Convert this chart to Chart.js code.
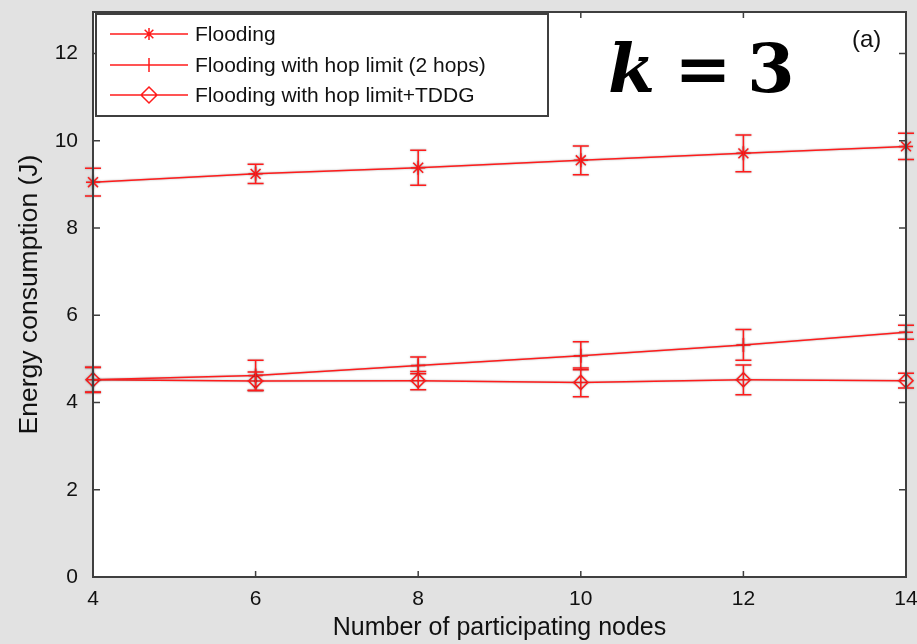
<!DOCTYPE html>
<html>
<head>
<meta charset="utf-8">
<script src="https://cdn.jsdelivr.net/npm/chart.js@4"></script>
<style>
  html, body { margin: 0; padding: 0; background: #e2e2e2; }
  #wrap { width: 917px; height: 644px; }
</style>
</head>
<body>
<div id="wrap"><canvas id="energyChart" width="917" height="644"></canvas></div>
<script>
// Data
const xValues = [4, 6, 8, 10, 12, 14];
const floodingMean = [9.05, 9.24, 9.38, 9.55, 9.71, 9.87];
const floodingErr = [0.32, 0.22, 0.40, 0.33, 0.42, 0.30];
const hopMean = [4.52, 4.62, 4.85, 5.07, 5.32, 5.61];
const hopErr = [0.28, 0.35, 0.19, 0.32, 0.35, 0.16];
const tddgMean = [4.52, 4.49, 4.50, 4.46, 4.52, 4.50];
const tddgErr = [0.29, 0.21, 0.21, 0.33, 0.34, 0.17];
const xTicks = [4, 6, 8, 10, 12, 14];
const yTicks = [0, 2, 4, 6, 8, 10, 12];
const seriesNames = ['Flooding', 'Flooding with hop limit (2 hops)', 'Flooding with hop limit+TDDG'];

const RED = 'rgb(255, 28, 28)';
const FRAME = '#3f3f3f';

function toPoints(means) {
    return xValues.map((x, i) => ({ x: x, y: means[i] }));
}

const errors = [floodingErr, hopErr, tddgErr];
const means = [floodingMean, hopMean, tddgMean];

// background, frame, inner ticks, error bars, legend, labels
const figurePlugin = {
    id: 'figure',
    beforeDraw(chart) {
        const { ctx, chartArea: ca } = chart;
        ctx.save();
        ctx.fillStyle = '#e2e2e2';
        ctx.fillRect(0, 0, chart.width, chart.height);
        ctx.fillStyle = '#ffffff';
        ctx.fillRect(ca.left, ca.top, ca.right - ca.left, ca.bottom - ca.top);
        ctx.restore();
    },
    beforeDatasetsDraw(chart) {
        const ctx = chart.ctx;
        ctx.save();
        ctx.shadowColor = 'rgba(0,0,0,0.35)';
        ctx.shadowBlur = 2;
    },
    afterDatasetsDraw(chart) {
        const { ctx, scales } = chart;
        const xs = scales.x, ys = scales.y;
        // error bars
        ctx.strokeStyle = RED;
        ctx.lineWidth = 1.5;
        means.forEach((m, d) => {
            m.forEach((v, i) => {
                const px = xs.getPixelForValue(xValues[i]);
                const top = ys.getPixelForValue(v + errors[d][i]);
                const bot = ys.getPixelForValue(v - errors[d][i]);
                ctx.beginPath();
                ctx.moveTo(px, top); ctx.lineTo(px, bot);
                ctx.moveTo(px - 8, top); ctx.lineTo(px + 8, top);
                ctx.moveTo(px - 8, bot); ctx.lineTo(px + 8, bot);
                ctx.stroke();
            });
        });
        ctx.restore();
    },
    afterDraw(chart) {
        const { ctx, chartArea: ca, scales } = chart;
        const xs = scales.x, ys = scales.y;
        ctx.save();
        // box
        ctx.strokeStyle = FRAME;
        ctx.lineWidth = 2;
        ctx.strokeRect(ca.left, ca.top, ca.right - ca.left, ca.bottom - ca.top);
        // inward ticks on all four sides
        ctx.lineWidth = 1.5;
        ctx.beginPath();
        xTicks.forEach(t => {
            const px = xs.getPixelForValue(t);
            ctx.moveTo(px, ca.bottom); ctx.lineTo(px, ca.bottom - 6);
            ctx.moveTo(px, ca.top); ctx.lineTo(px, ca.top + 6);
        });
        yTicks.forEach(t => {
            const py = ys.getPixelForValue(t);
            ctx.moveTo(ca.left, py); ctx.lineTo(ca.left + 7, py);
            ctx.moveTo(ca.right, py); ctx.lineTo(ca.right - 7, py);
        });
        ctx.stroke();

        // legend box
        const lx = ca.left + 3, ly = ca.top + 2;
        ctx.fillStyle = '#ffffff';
        ctx.fillRect(lx, ly, 452, 102);
        ctx.strokeStyle = FRAME;
        ctx.lineWidth = 2;
        ctx.strokeRect(lx, ly, 452, 102);
        const rows = [22, 53, 83];
        ctx.font = '21px "Liberation Sans", Arial, sans-serif';
        ctx.textBaseline = 'middle';
        ctx.textAlign = 'left';
        rows.forEach((r, i) => {
            const y = ca.top + r;
            const x0 = ca.left + 17, x1 = ca.left + 95, xm = ca.left + 56;
            ctx.strokeStyle = RED;
            ctx.lineWidth = 1.5;
            ctx.beginPath();
            ctx.moveTo(x0, y); ctx.lineTo(x1, y);
            if (i === 0) {
                const s = 6;
                ctx.moveTo(xm, y - s); ctx.lineTo(xm, y + s);
                ctx.moveTo(xm - s, y); ctx.lineTo(xm + s, y);
                const d = s * 0.72;
                ctx.moveTo(xm - d, y - d); ctx.lineTo(xm + d, y + d);
                ctx.moveTo(xm - d, y + d); ctx.lineTo(xm + d, y - d);
            } else if (i === 1) {
                ctx.moveTo(xm, y - 7); ctx.lineTo(xm, y + 7);
            } else {
                const s = 8;
                ctx.moveTo(xm, y - s); ctx.lineTo(xm + s, y);
                ctx.lineTo(xm, y + s); ctx.lineTo(xm - s, y); ctx.closePath();
            }
            ctx.stroke();
            ctx.fillStyle = '#111111';
            ctx.fillText(seriesNames[i], ca.left + 102, y + 1);
        });

        // panel tag
        ctx.fillStyle = '#111111';
        ctx.font = '24px "Liberation Sans", Arial, sans-serif';
        ctx.textAlign = 'left';
        ctx.textBaseline = 'alphabetic';
        ctx.fillText('(a)', ca.right - 54, ca.top + 35);

        // k = 3
        ctx.fillStyle = '#000000';
        ctx.font = 'bold italic 68px "DejaVu Serif", serif';
        ctx.textAlign = 'left';
        ctx.fillText('k', ca.left + 515, ca.top + 80);
        ctx.font = 'bold 68px "DejaVu Serif", serif';
        ctx.textAlign = 'center';
        ctx.fillText('=', ca.left + 610, ca.top + 80);
        ctx.fillText('3', ca.left + 678, ca.top + 80);
        ctx.restore();
    }
};

const ctx = document.getElementById('energyChart').getContext('2d');
new Chart(ctx, {
    type: 'line',
    data: {
        datasets: [{
            label: seriesNames[0],
            data: toPoints(floodingMean),
            borderColor: RED,
            backgroundColor: RED,
            borderWidth: 1.5,
            pointStyle: 'star',
            pointRadius: 7,
            pointBorderWidth: 1.5,
            tension: 0
        }, {
            label: seriesNames[1],
            data: toPoints(hopMean),
            borderColor: RED,
            backgroundColor: RED,
            borderWidth: 1.5,
            pointStyle: 'cross',
            pointRadius: 7,
            pointBorderWidth: 1.5,
            tension: 0
        }, {
            label: seriesNames[2],
            data: toPoints(tddgMean),
            borderColor: RED,
            backgroundColor: 'rgba(0,0,0,0)',
            borderWidth: 1.5,
            pointStyle: 'rectRot',
            pointRadius: 7,
            pointBorderWidth: 1.5,
            tension: 0
        }]
    },
    options: {
        responsive: false,
        animation: false,
        clip: false,
        layout: { padding: { top: 12, right: 11, left: 0, bottom: 0 } },
        plugins: {
            legend: { display: false },
            tooltip: { enabled: false }
        },
        scales: {
            x: {
                type: 'linear',
                min: 4,
                max: 14,
                afterBuildTicks: s => { s.ticks = xTicks.map(v => ({ value: v })); },
                afterFit: s => {
                    s.height = 67;
                    s.paddingLeft = 0; s.paddingRight = 0;
                },
                grid: { drawOnChartArea: false, drawTicks: false },
                border: { display: false },
                ticks: {
                    color: '#111111',
                    padding: 10,
                    maxRotation: 0,
                    font: { family: '"Liberation Sans", Arial, sans-serif', size: 21 }
                },
                title: {
                    display: true,
                    text: 'Number of participating nodes',
                    color: '#111111',
                    padding: { top: 0, bottom: 1 },
                    font: { family: '"Liberation Sans", Arial, sans-serif', size: 25 }
                }
            },
            y: {
                min: 0,
                max: 12.95,
                afterBuildTicks: s => { s.ticks = yTicks.map(v => ({ value: v })); },
                afterFit: s => {
                    s.width = 93;
                    s.paddingTop = 0; s.paddingBottom = 0;
                },
                grid: { drawOnChartArea: false, drawTicks: false },
                border: { display: false },
                ticks: {
                    color: '#111111',
                    padding: 15,
                    font: { family: '"Liberation Sans", Arial, sans-serif', size: 21 }
                },
                title: {
                    display: true,
                    text: 'Energy consumption (J)',
                    color: '#111111',
                    padding: { top: 14, bottom: 0 },
                    font: { family: '"Liberation Sans", Arial, sans-serif', size: 26.5 }
                }
            }
        }
    },
    plugins: [figurePlugin]
});
</script>
</body>
</html>
